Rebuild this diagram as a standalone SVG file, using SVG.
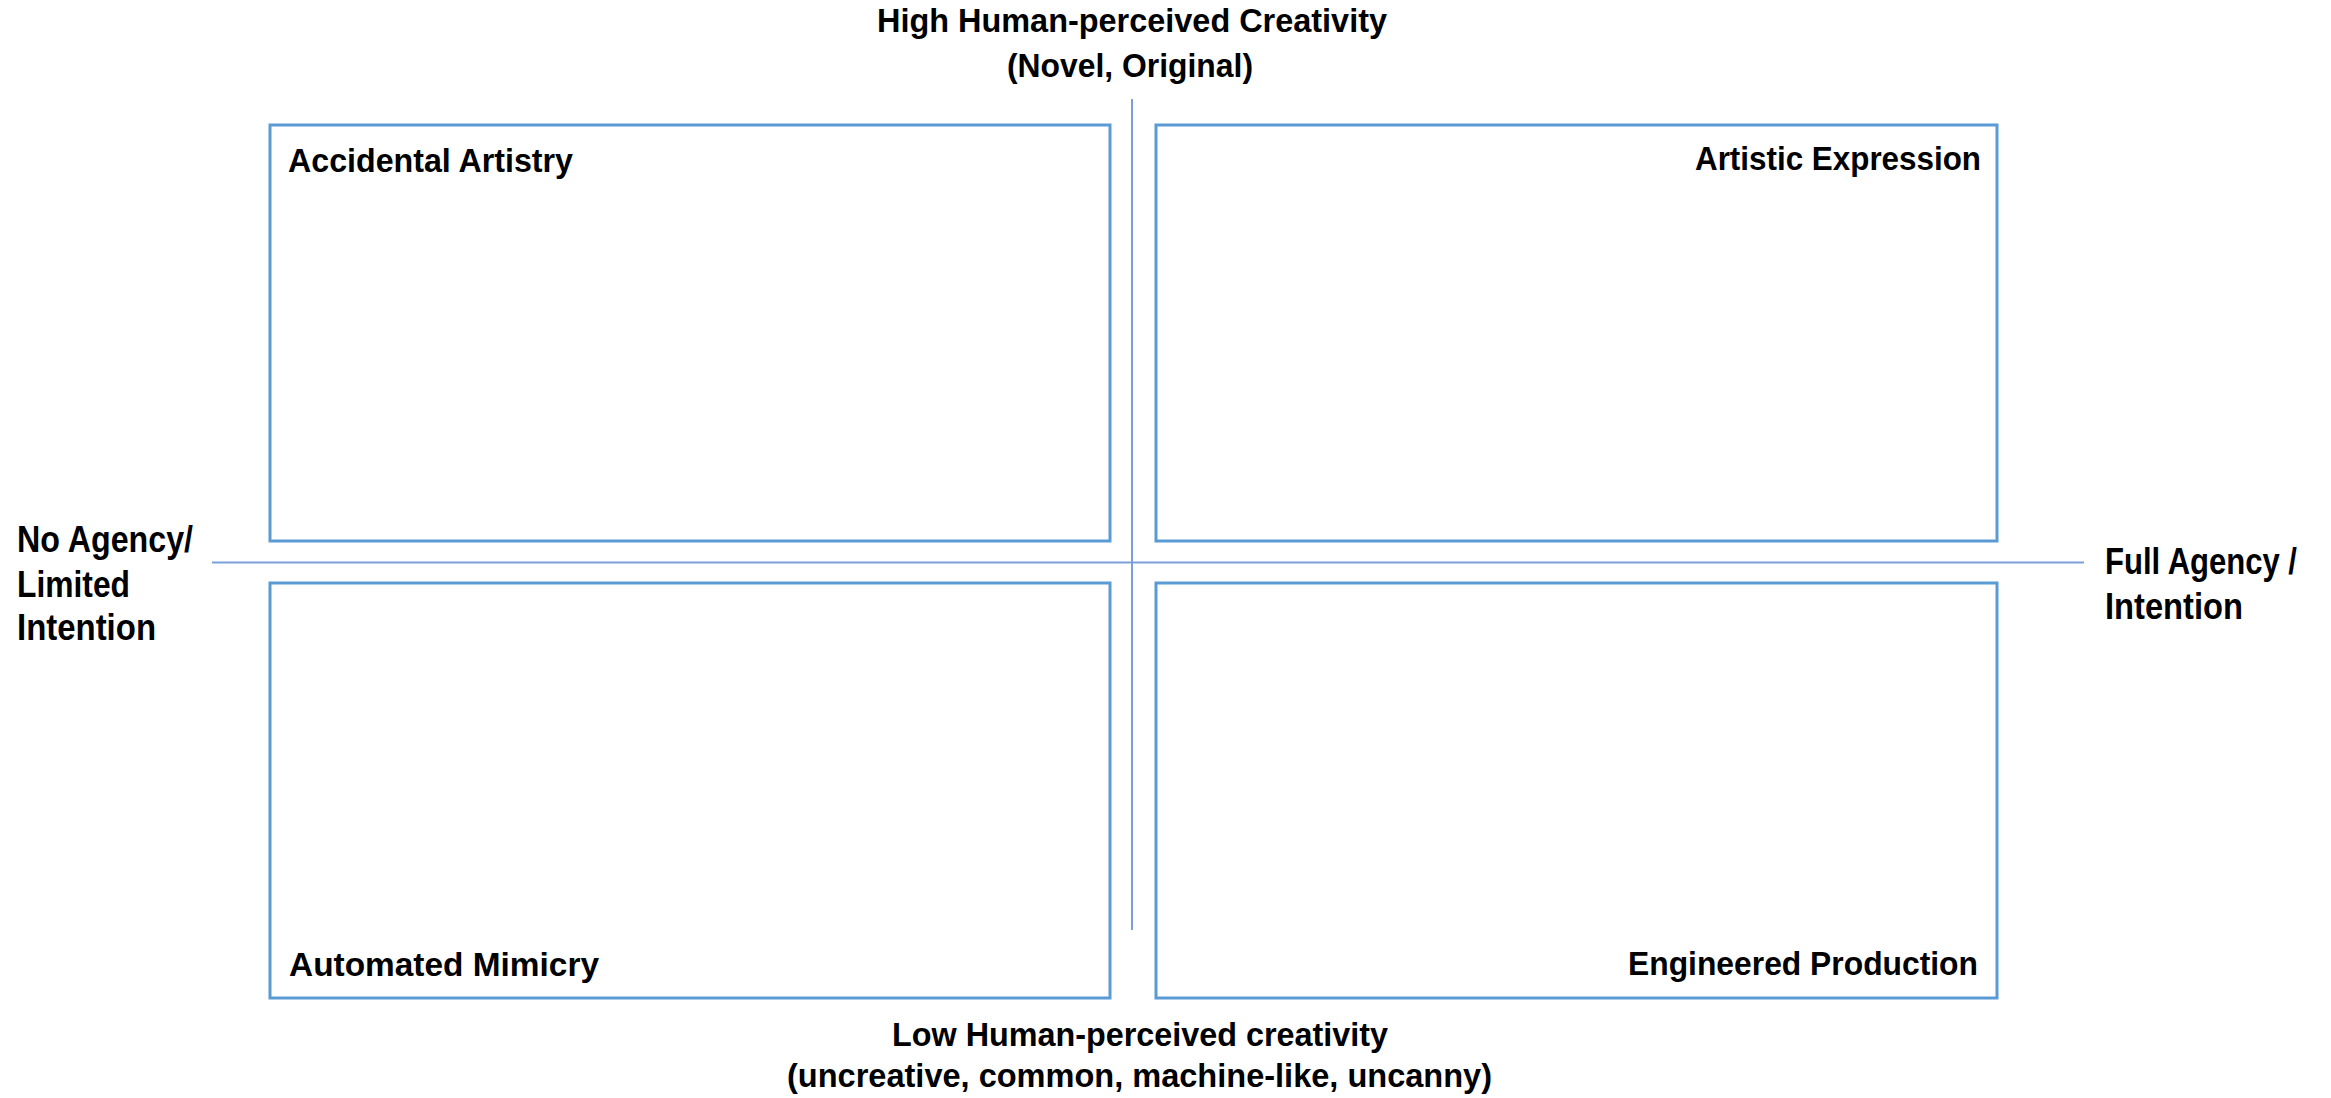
<svg xmlns="http://www.w3.org/2000/svg" width="2331" height="1098" viewBox="0 0 2331 1098">
<style>
.box{fill:#ffffff;stroke:#5B9BD5;stroke-width:3}
.axis{stroke:#7A9FD9;stroke-width:2;fill:none}
text{font-family:"Liberation Sans",Arial,sans-serif;font-weight:bold;font-size:34px;fill:#000}
.side{font-size:36px}
</style>
<rect width="2331" height="1098" fill="#ffffff"/>
<g id="connectors">
<line class="axis" x1="1132" y1="99" x2="1132" y2="930"/>
<line class="axis" x1="212" y1="562.5" x2="2084" y2="562.5"/>
</g>
<g id="axis-top">
<text x="877" y="32" textLength="510" lengthAdjust="spacingAndGlyphs">High Human-perceived Creativity</text>
<text x="1007" y="77" textLength="246" lengthAdjust="spacingAndGlyphs">(Novel, Original)</text>
</g>
<g id="axis-bottom">
<text x="892" y="1046" textLength="496" lengthAdjust="spacingAndGlyphs">Low Human-perceived creativity</text>
<text x="787" y="1087" textLength="705" lengthAdjust="spacingAndGlyphs">(uncreative, common, machine-like, uncanny)</text>
</g>
<g id="axis-left">
<text class="side" x="17" y="552" textLength="176" lengthAdjust="spacingAndGlyphs">No Agency/</text>
<text class="side" x="17" y="597" textLength="113" lengthAdjust="spacingAndGlyphs">Limited</text>
<text class="side" x="17" y="640" textLength="139" lengthAdjust="spacingAndGlyphs">Intention</text>
</g>
<g id="axis-right">
<text class="side" x="2105" y="574" textLength="192" lengthAdjust="spacingAndGlyphs">Full Agency /</text>
<text class="side" x="2105" y="619" textLength="138" lengthAdjust="spacingAndGlyphs">Intention</text>
</g>
<g id="accidental-artistry">
<rect class="box" x="270" y="125" width="840" height="416"/>
<text x="288" y="172" textLength="285" lengthAdjust="spacingAndGlyphs">Accidental Artistry</text>
</g>
<g id="artistic-expression">
<rect class="box" x="1156" y="125" width="841" height="416"/>
<text x="1695" y="170" textLength="286" lengthAdjust="spacingAndGlyphs">Artistic Expression</text>
</g>
<g id="automated-mimicry">
<rect class="box" x="270" y="583" width="840" height="415"/>
<text x="289" y="976" textLength="310" lengthAdjust="spacingAndGlyphs">Automated Mimicry</text>
</g>
<g id="engineered-production">
<rect class="box" x="1156" y="583" width="841" height="415"/>
<text x="1628" y="975" textLength="350" lengthAdjust="spacingAndGlyphs">Engineered Production</text>
</g>
</svg>
